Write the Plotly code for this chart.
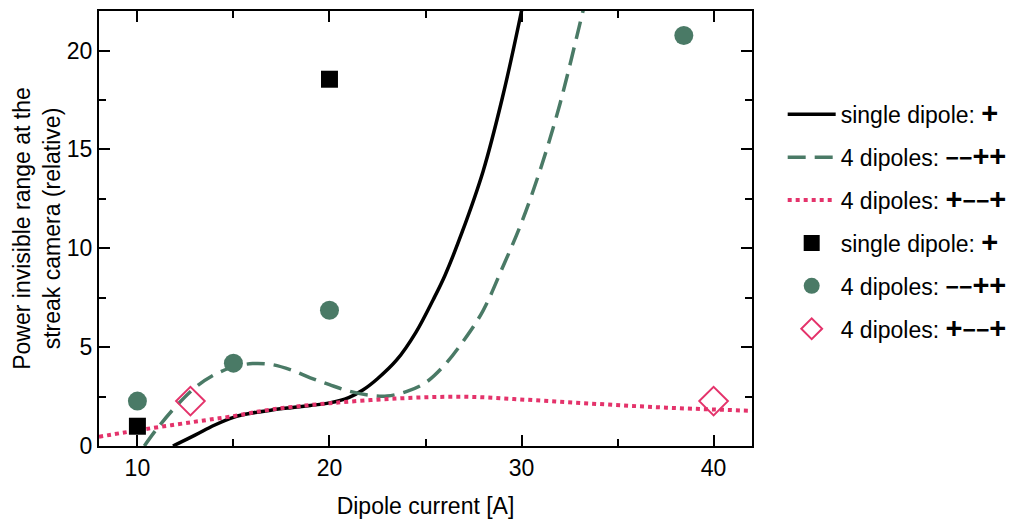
import plotly.graph_objects as go

# ---- data ----
single_fit_x = [11.85, 12.0, 13.0, 14.0, 15.0, 16.0, 17.0, 18.0, 19.0, 20.0, 21.0, 21.74, 22.5, 23.5, 24.5, 25.4, 26.0, 26.9, 28.0, 29.0, 30.0, 30.1]
single_fit_y = [0.0, 0.07, 0.55, 1.05, 1.45, 1.67, 1.82, 1.94, 2.05, 2.18, 2.45, 2.83, 3.4, 4.35, 5.75, 7.4, 8.6, 10.8, 13.9, 17.6, 22.0, 22.5]

four_a_fit_x = [10.36, 11.0, 12.0, 13.0, 14.0, 15.0, 16.0, 17.0, 18.0, 19.0, 20.0, 21.0, 22.0, 23.0, 24.0, 25.0, 26.0, 27.0, 28.0, 29.0, 30.0, 31.0, 32.0, 33.0, 33.3]
four_a_fit_y = [0.0, 0.85, 2.0, 2.95, 3.6, 4.0, 4.17, 4.12, 3.85, 3.45, 3.1, 2.78, 2.58, 2.53, 2.75, 3.2, 4.1, 5.35, 6.85, 9.0, 11.3, 14.05, 17.3, 21.2, 22.4]

four_b_fit_x = [8.0, 10.45, 13.58, 14.79, 17.0, 20.0, 23.65, 27.12, 30.59, 34.06, 37.54, 42.0]
four_b_fit_y = [0.47, 0.86, 1.31, 1.48, 1.85, 2.16, 2.41, 2.49, 2.32, 2.12, 1.94, 1.78]

single_meas_x = [10, 20]
single_meas_y = [1.0, 18.55]

four_a_meas_x = [10, 15, 20, 38.45]
four_a_meas_y = [2.27, 4.19, 6.87, 20.76]

four_b_meas_x = [12.76, 40]
four_b_meas_y = [2.27, 2.27]

GREEN = "#4a7a66"
PINK = "#e4336b"
FONT = "Liberation Sans, Arial, Helvetica, sans-serif"
FS = 23

def sign_html(sign):
    out = ""
    for ch in sign:
        if ch == "+":
            out += '<span style="font-size:29px"><b>+</b></span>'
        else:
            out += '<span style="font-size:23px"><b>\u2212</b></span>'
    return out

def lab(prefix, sign):
    return prefix + " " + sign_html(sign)

fig = go.Figure()
fig.add_trace(go.Scatter(x=single_fit_x, y=single_fit_y, mode="lines",
                         line=dict(color="black", width=3.5, shape="spline"),
                         name=lab("single dipole:", "+"), legendgroup="a"))
fig.add_trace(go.Scatter(x=four_a_fit_x, y=four_a_fit_y, mode="lines",
                         line=dict(color=GREEN, width=3.5, shape="spline", dash="18px,9px"),
                         name=lab("4 dipoles:", "--++"), legendgroup="b"))
fig.add_trace(go.Scatter(x=four_b_fit_x, y=four_b_fit_y, mode="lines",
                         line=dict(color=PINK, width=4, shape="spline", dash="4px,4px"),
                         name=lab("4 dipoles:", "+--+"), legendgroup="c"))
fig.add_trace(go.Scatter(x=single_meas_x, y=single_meas_y, mode="markers",
                         marker=dict(symbol="square", size=17, color="black"),
                         name=lab("single dipole:", "+"), legendgroup="d"))
fig.add_trace(go.Scatter(x=four_a_meas_x, y=four_a_meas_y, mode="markers",
                         marker=dict(symbol="circle", size=19, color=GREEN),
                         name=lab("4 dipoles:", "--++"), legendgroup="e"))
fig.add_trace(go.Scatter(x=four_b_meas_x, y=four_b_meas_y, mode="markers",
                         marker=dict(symbol="diamond-open", size=22, color=PINK, line=dict(width=2, color=PINK)),
                         name=lab("4 dipoles:", "+--+"), legendgroup="f"))

axis_common = dict(showline=True, linecolor="black", linewidth=2, mirror="ticks",
                   ticks="inside", ticklen=11, tickwidth=2, tickcolor="black",
                   showgrid=False, zeroline=False, automargin=False,
                   tickfont=dict(family=FONT, size=FS, color="black"))

fig.update_xaxes(range=[8, 42], dtick=10, tick0=0,
                 minor=dict(ticks="inside", ticklen=7, tickwidth=2, tickcolor="black", dtick=5, tick0=0),
                 title=dict(text="Dipole current [A]", font=dict(family=FONT, size=FS, color="black"), standoff=18),
                 **axis_common)
fig.update_yaxes(range=[0, 22], dtick=5, tick0=0,
                 minor=dict(ticks="inside", ticklen=7, tickwidth=2, tickcolor="black", dtick=2.5, tick0=0),
                 title=dict(text="Power invisible range at the<br>streak camera (relative)",
                            font=dict(family=FONT, size=FS, color="black"), standoff=0),
                 **axis_common)

fig.update_layout(
    width=1016, height=520,
    margin=dict(l=99, r=264, t=11, b=74, autoexpand=False),
    plot_bgcolor="white", paper_bgcolor="white",
    font=dict(family=FONT, size=FS, color="black"),
    legend=dict(x=1.047, y=0.812, xanchor="left", yanchor="top",
                font=dict(family=FONT, size=FS, color="black"),
                tracegroupgap=10, bgcolor="rgba(0,0,0,0)", itemwidth=48),
    showlegend=True,
)

fig.write_html("out.html")
